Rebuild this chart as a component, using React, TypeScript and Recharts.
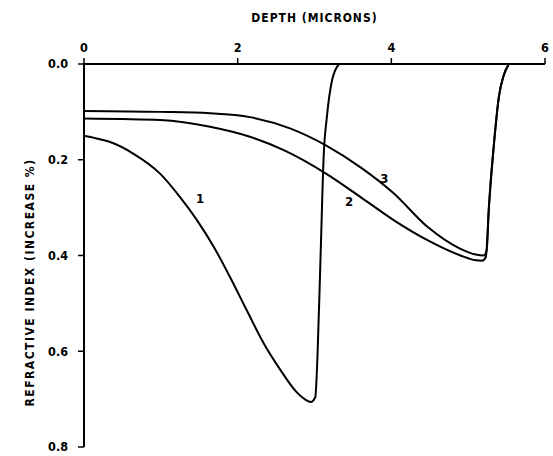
import { LineChart, Line, XAxis, YAxis, ReferenceDot } from 'recharts';

// curve 1
const depth1 = [0, 0.15, 0.34, 0.64, 0.99, 1.25, 1.47, 1.69, 1.9, 2.12, 2.34, 2.56, 2.77, 2.88, 2.95, 3.01, 3.04, 3.08, 3.12, 3.16, 3.23, 3.32];
const index1 = [0.15, 0.155, 0.163, 0.187, 0.229, 0.278, 0.326, 0.382, 0.445, 0.515, 0.584, 0.64, 0.686, 0.701, 0.706, 0.696, 0.605, 0.396, 0.19, 0.112, 0.033, 0];

// curve 2
const depth2 = [0, 0.5, 0.99, 1.64, 2.16, 2.6, 3.16, 3.6, 4.03, 4.47, 4.9, 5.1, 5.18, 5.23, 5.27, 5.34, 5.4, 5.46, 5.53];
const index2 = [0.114, 0.115, 0.117, 0.131, 0.152, 0.18, 0.23, 0.278, 0.326, 0.368, 0.4, 0.41, 0.411, 0.403, 0.299, 0.159, 0.068, 0.025, 0];

// curve 3
const depth3 = [0, 0.99, 1.64, 2.16, 2.69, 3.16, 3.6, 4.03, 4.47, 4.9, 5.1, 5.2, 5.24, 5.27, 5.34, 5.4, 5.46, 5.53];
const index3 = [0.098, 0.1, 0.103, 0.111, 0.135, 0.171, 0.216, 0.27, 0.34, 0.386, 0.398, 0.4, 0.39, 0.299, 0.159, 0.068, 0.025, 0];

const depthTicks = [0, 2, 4, 6];
const indexTicks = [0, 0.2, 0.4, 0.6, 0.8];

const curveNames = ['1', '2', '3'];
const labelDepth = [1.51, 3.45, 3.91];
const labelIndex = [0.28, 0.288, 0.239];

const toPoints = (xs: number[], ys: number[]) => xs.map((x, i) => ({ x, y: ys[i] }));

const FONT = '"DejaVu Sans Condensed", "DejaVu Sans", sans-serif';

export default function App() {
  const curves = [toPoints(depth1, index1), toPoints(depth2, index2), toPoints(depth3, index3)];
  const tickStyle = { fill: '#000', fontSize: 12.5, fontWeight: 'bold', fontFamily: FONT };

  return (
    <div style={{ position: 'absolute', left: 0, top: 0, width: 553, height: 456, background: '#fff' }}>
      <LineChart width={553} height={456} margin={{ top: 34, right: 8, bottom: 9, left: 34 }}>
        <XAxis
          xAxisId="d"
          type="number"
          dataKey="x"
          orientation="top"
          domain={[0, 6]}
          ticks={depthTicks}
          height={30}
          stroke="#000"
          strokeWidth={2}
          tickSize={6}
          tickMargin={6}
          tick={tickStyle}
          tickLine={{ stroke: '#000', strokeWidth: 1.5 }}
          allowDataOverflow
          label={{
            value: 'DEPTH (MICRONS)',
            position: 'top',
            offset: 12,
            fill: '#000',
            fontSize: 12,
            fontWeight: 'bold',
            fontFamily: FONT,
            letterSpacing: 1,
          }}
        />
        <YAxis
          yAxisId="n"
          type="number"
          dataKey="y"
          reversed
          domain={[0, 0.8]}
          ticks={indexTicks}
          width={50}
          stroke="#000"
          strokeWidth={2}
          tickSize={6}
          tickMargin={10}
          tick={tickStyle}
          tickLine={{ stroke: '#000', strokeWidth: 1.5 }}
          tickFormatter={(v: number) => v.toFixed(1)}
          allowDataOverflow
          label={{
            content: (props: any) => {
              const vb = props.viewBox;
              const cx = vb.x - 4;
              const cy = vb.y + vb.height / 2 + 27;
              return (
                <text
                  x={cx}
                  y={cy}
                  transform={`rotate(-90, ${cx}, ${cy})`}
                  textAnchor="middle"
                  dominantBaseline="middle"
                  fill="#000"
                  fontSize={12}
                  fontWeight="bold"
                  fontFamily={FONT}
                  letterSpacing={1.5}
                >
                  REFRACTIVE INDEX (INCREASE %)
                </text>
              );
            },
          }}
        />
        {curves.map((pts, i) => (
          <Line
            key={curveNames[i]}
            xAxisId="d"
            yAxisId="n"
            data={pts}
            dataKey="y"
            type="monotone"
            stroke="#000"
            strokeWidth={2}
            dot={false}
            activeDot={false}
            isAnimationActive={false}
          />
        ))}
        {curveNames.map((name, i) => (
          <ReferenceDot
            key={'lbl' + name}
            xAxisId="d"
            yAxisId="n"
            x={labelDepth[i]}
            y={labelIndex[i]}
            r={0}
            stroke="none"
            fill="none"
            label={{ value: name, position: 'center', fill: '#000', fontSize: 13, fontWeight: 'bold', fontFamily: FONT }}
          />
        ))}
      </LineChart>
    </div>
  );
}
